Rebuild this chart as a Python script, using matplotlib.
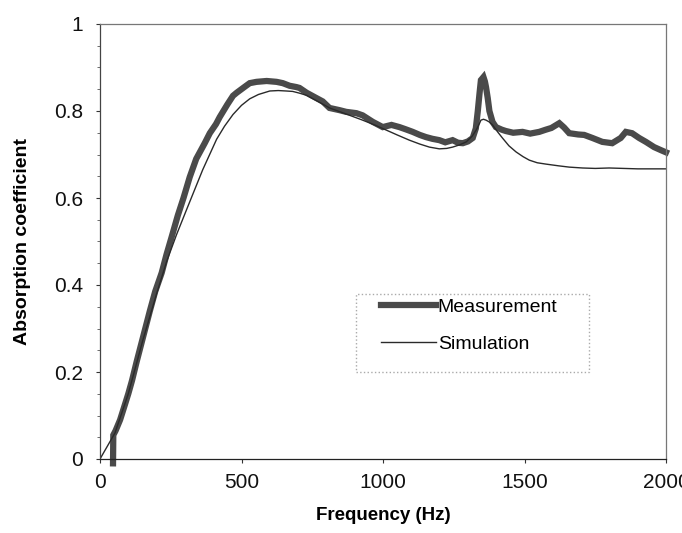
import matplotlib.pyplot as plt
from matplotlib.patches import Rectangle
from matplotlib.ticker import MultipleLocator

freq_meas = [46, 47, 55, 71, 88, 100, 113, 130, 150, 176, 195, 218, 235, 253, 275,
             295, 317, 340, 370, 388, 410, 423, 450, 470, 483, 510, 529, 553, 589,
             624, 646, 670, 694, 705, 730, 764, 787, 811, 846, 870, 906, 928, 964,
             999, 1030, 1058, 1080, 1105, 1130, 1152, 1175, 1199, 1220, 1246, 1265,
             1282, 1300, 1317, 1328, 1335, 1341, 1346, 1355, 1360, 1364, 1370, 1376,
             1387, 1399, 1420, 1434, 1460, 1493, 1520, 1552, 1575, 1595, 1623, 1640,
             1658, 1690, 1711, 1740, 1775, 1810, 1840, 1858, 1880, 1905, 1929, 1958,
             1982, 2000]
abs_meas = [-0.01, 0.055, 0.065, 0.09, 0.125, 0.15, 0.18, 0.225, 0.275, 0.34, 0.385,
            0.428, 0.47, 0.51, 0.56, 0.6, 0.648, 0.69, 0.726, 0.749, 0.77, 0.786,
            0.815, 0.835, 0.842, 0.855, 0.864, 0.867, 0.869, 0.867, 0.864, 0.858,
            0.855, 0.853, 0.842, 0.83, 0.822, 0.807, 0.802, 0.798, 0.795, 0.79,
            0.775, 0.763, 0.768, 0.763, 0.758, 0.752, 0.745, 0.74, 0.736, 0.733,
            0.728, 0.733, 0.727, 0.726, 0.73, 0.738, 0.76, 0.80, 0.84, 0.871, 0.878,
            0.868, 0.855, 0.83, 0.80, 0.775, 0.763, 0.757, 0.754, 0.75, 0.752, 0.748,
            0.752, 0.757, 0.761, 0.772, 0.762, 0.749, 0.746, 0.745, 0.738, 0.729,
            0.726, 0.738, 0.752, 0.749, 0.738, 0.729, 0.717, 0.71, 0.705]

# simulated absorption
freq_sim = [0, 53, 100, 150, 200, 236, 270, 307, 335, 363, 412, 440, 470, 500, 529,
            560, 600, 630, 658, 681, 705, 730, 770, 811, 870, 928, 970, 1012, 1050,
            1093, 1130, 1164, 1199, 1225, 1246, 1270, 1294, 1315, 1329, 1340, 1346,
            1355, 1364, 1375, 1387, 1405, 1422, 1445, 1470, 1495, 1517, 1545, 1575,
            1620, 1658, 1705, 1750, 1799, 1850, 1900, 1950, 2000]
abs_sim = [0.0, 0.06, 0.15, 0.27, 0.38, 0.455, 0.515, 0.575, 0.62, 0.665, 0.735,
           0.765, 0.792, 0.813, 0.828, 0.838, 0.846, 0.847, 0.846, 0.845, 0.841,
           0.836, 0.822, 0.807, 0.793, 0.779, 0.768, 0.756, 0.745, 0.733, 0.724,
           0.717, 0.713, 0.714, 0.717, 0.722, 0.729, 0.742, 0.756, 0.77, 0.779,
           0.781, 0.779, 0.775, 0.768, 0.752, 0.738, 0.72, 0.706, 0.695, 0.687,
           0.681, 0.678, 0.674, 0.671, 0.669, 0.668, 0.669, 0.668, 0.667, 0.667,
           0.667]

if __name__ == "__main__":
    plt.rcParams['font.family'] = ['Liberation Sans', 'DejaVu Sans']

    fig = plt.figure(figsize=(6.82, 5.33), dpi=100)
    ax = fig.add_axes([100 / 682, 1 - 459 / 533, 566 / 682, 435 / 533])

    ax.plot(freq_meas, abs_meas, color="#4a4a4a", linewidth=4.5,
            solid_joinstyle="miter", label="Measurement", clip_on=False)
    ax.plot(freq_sim, abs_sim, color="#2a2a2a", linewidth=1.0, label="Simulation")

    ax.set_xlim(0, 2000)
    ax.set_ylim(0, 1)
    ax.xaxis.set_major_locator(MultipleLocator(500))
    ax.yaxis.set_minor_locator(MultipleLocator(0.05))
    ax.set_yticks([0, 0.2, 0.4, 0.6, 0.8, 1])
    ax.set_yticklabels(["0", "0.2", "0.4", "0.6", "0.8", "1"])
    ax.tick_params(axis="both", labelsize=15, direction="out", length=3,
                   width=0.8, colors="#333333", labelcolor="#111111")
    ax.tick_params(axis="y", which="minor", length=2, width=0.6, colors="#555555")
    ax.tick_params(axis="x", pad=7)
    ax.tick_params(axis="y", pad=9)

    for sp in ax.spines.values():
        sp.set_color("#777777")
        sp.set_linewidth(0.9)
    ax.spines["bottom"].set_color("#222222")
    ax.spines["left"].set_color("#444444")

    ax.set_xlabel("Frequency (Hz)", fontsize=13.5, fontweight="bold", labelpad=11)
    ax.set_ylabel("Absorption coefficient", fontsize=14, fontweight="bold", labelpad=17)

    # dotted legend box like the scan
    ax.add_patch(Rectangle((0.453, 0.2), 0.411, 0.179, transform=ax.transAxes,
                           fill=True, facecolor="white", edgecolor="#aaaaaa",
                           linestyle=":", linewidth=1.0, zorder=3))
    leg = ax.legend(loc="upper left", bbox_to_anchor=(0.497, 0.37), frameon=False,
                    fontsize=14, handlelength=2.8, handletextpad=0.1,
                    labelspacing=1.0, borderpad=0, borderaxespad=0)
    leg.set_zorder(4)

    fig.savefig("out.png", dpi=100)
